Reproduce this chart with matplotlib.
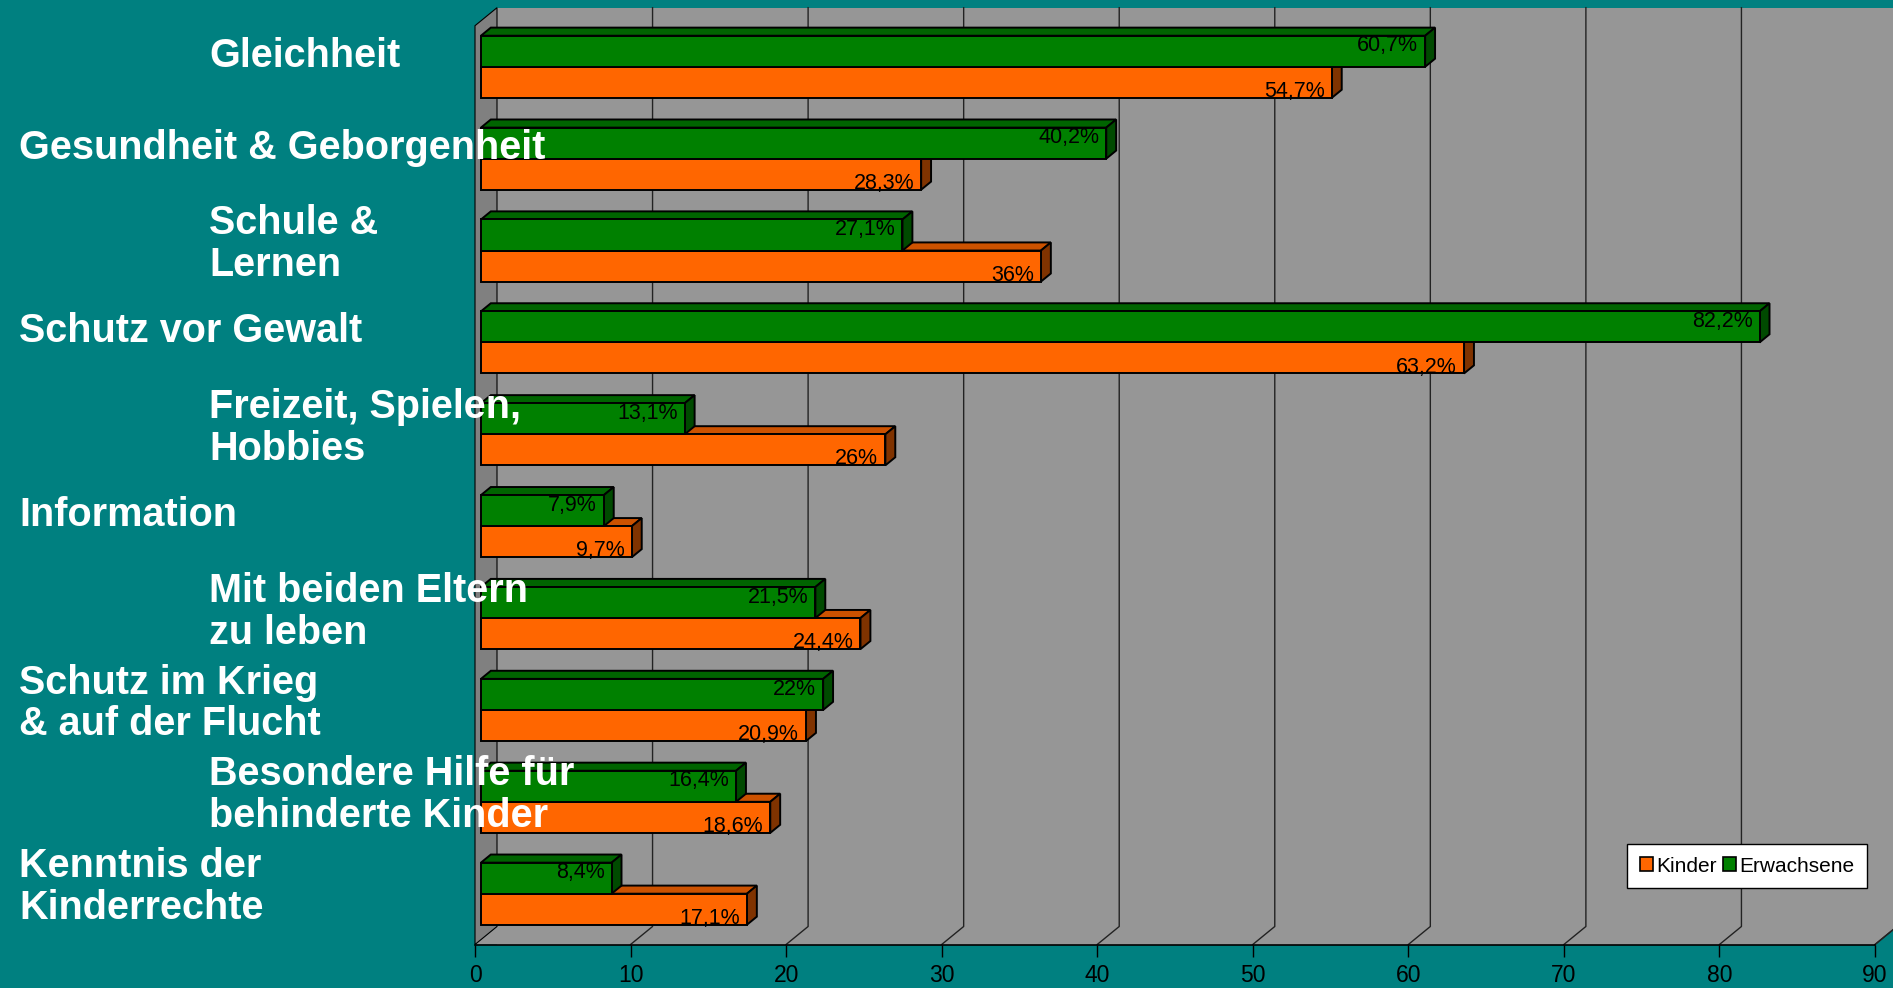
import matplotlib
matplotlib.use("Agg")
import matplotlib.pyplot as plt
from matplotlib.patches import Polygon, Patch
from matplotlib.transforms import blended_transform_factory

# ---------------- data ----------------
categories = [
    "Gleichheit",
    "Gesundheit & Geborgenheit",
    "Schule &\nLernen",
    "Schutz vor Gewalt",
    "Freizeit, Spielen,\nHobbies",
    "Information",
    "Mit beiden Eltern\nzu leben",
    "Schutz im Krieg\n& auf der Flucht",
    "Besondere Hilfe für\nbehinderte Kinder",
    "Kenntnis der\nKinderrechte",
]
erwachsene = [60.7, 40.2, 27.1, 82.2, 13.1, 7.9, 21.5, 22.0, 16.4, 8.4]
kinder = [54.7, 28.3, 36.0, 63.2, 26.0, 9.7, 24.4, 20.9, 18.6, 17.1]
erwachsene_labels = ["60,7%", "40,2%", "27,1%", "82,2%", "13,1%", "7,9%", "21,5%", "22%", "16,4%", "8,4%"]
kinder_labels = ["54,7%", "28,3%", "36%", "63,2%", "26%", "9,7%", "24,4%", "20,9%", "18,6%", "17,1%"]
xticks = [0, 10, 20, 30, 40, 50, 60, 70, 80, 90]
series_names = ["Kinder", "Erwachsene"]

# ---------------- style ----------------
TEAL = "#008080"
WALL = "#969696"
SIDEWALL = "#808080"
GREEN, GREEN_TOP, GREEN_SIDE = "#008000", "#006400", "#004a00"
ORANGE, ORANGE_TOP, ORANGE_SIDE = "#FF6600", "#CC5200", "#803300"

plt.rcParams["font.family"] = ["Liberation Sans", "DejaVu Sans"]

W, H = 1893, 988
fig = plt.figure(figsize=(W / 100, H / 100), dpi=100, facecolor=TEAL)
ax = fig.add_axes([475 / W, (H - 944.5) / H, 1400 / W, (944.5 - 25.7) / H])
ax.set_xlim(0, 90)
ax.set_ylim(len(categories) - 0.5, -0.5)
ax.patch.set_visible(False)
for s in ["left", "top", "right"]:
    ax.spines[s].set_visible(False)
ax.spines["bottom"].set_color("black")
ax.spines["bottom"].set_linewidth(1.2)
ax.spines["bottom"].set_zorder(5)
ax.set_yticks([])
ax.set_xticks(xticks)
ax.set_xticklabels([str(t) for t in xticks], fontsize=16.5)
ax.tick_params(axis="x", direction="out", length=8.6, width=1, color="black", pad=5.5)

DX, DY = 1.414, -0.196          # full depth offset (data units)
y_top, y_bot = -0.5, len(categories) - 0.5
x_max = 90

# back wall (extends down under the floor to avoid a seam)
ax.add_patch(Polygon([(DX, y_top + DY), (x_max + DX + 3, y_top + DY), (x_max + DX + 3, y_bot), (DX, y_bot)],
                     closed=True, facecolor=WALL, edgecolor="none", clip_on=False, zorder=0))
# floor
ax.add_patch(Polygon([(0, y_bot), (x_max, y_bot), (x_max + DX, y_bot + DY), (DX, y_bot + DY)],
                     closed=True, facecolor=WALL, edgecolor="none", clip_on=False, zorder=0.1))
# teal beyond the right edge of the floor
ax.add_patch(Polygon([(x_max, y_bot), (x_max + DX + 3, y_bot), (x_max + DX + 3, y_bot + DY), (x_max + DX, y_bot + DY)],
                     closed=True, facecolor=TEAL, edgecolor="none", clip_on=False, zorder=0.1))
# left side wall
ax.add_patch(Polygon([(0, y_top), (DX, y_top + DY), (DX, y_bot + DY), (0, y_bot)],
                     closed=True, facecolor=SIDEWALL, edgecolor="black", linewidth=0.8, clip_on=False, zorder=0.5))
# gridlines on wall and floor
for t in xticks[1:]:
    ax.plot([t + DX, t + DX, t], [y_top + DY, y_bot + DY, y_bot], color="#222222", lw=1.0,
            clip_on=False, zorder=1)
ax.plot([x_max, x_max + DX], [y_bot, y_bot + DY], color="#222222", lw=1.0, clip_on=False, zorder=1)

# bars
bh = 0.338
d_front, d_back = 0.27, 0.72
f_dx, f_dy = d_front * DX, d_front * DY
b_dx, b_dy = d_back * DX, d_back * DY


def bar3d(v, y0, y1, c_front, c_top, c_side, z):
    ek = dict(edgecolor="black", linewidth=1.4, joinstyle="miter", clip_on=False)
    top = [(f_dx, y0 + f_dy), (v + f_dx, y0 + f_dy), (v + b_dx, y0 + b_dy), (b_dx, y0 + b_dy)]
    side = [(v + f_dx, y0 + f_dy), (v + b_dx, y0 + b_dy), (v + b_dx, y1 + b_dy), (v + f_dx, y1 + f_dy)]
    front = [(f_dx, y0 + f_dy), (v + f_dx, y0 + f_dy), (v + f_dx, y1 + f_dy), (f_dx, y1 + f_dy)]
    ax.add_patch(Polygon(top, closed=True, facecolor=c_top, zorder=z, **ek))
    ax.add_patch(Polygon(side, closed=True, facecolor=c_side, zorder=z, **ek))
    ax.add_patch(Polygon(front, closed=True, facecolor=c_front, zorder=z + 0.1, **ek))


for i, (e, k) in enumerate(zip(erwachsene, kinder)):
    bar3d(k, i, i + bh, ORANGE, ORANGE_TOP, ORANGE_SIDE, 2)
    bar3d(e, i - bh, i, GREEN, GREEN_TOP, GREEN_SIDE, 3)
    g_base = i - bh + f_dy + 0.171
    o_base = i + bh + f_dy - 0.01
    ax.text(e - 0.07, g_base, erwachsene_labels[i], ha="right", va="baseline", fontsize=15.5,
            color="black", zorder=6)
    ax.text(k - 0.07, o_base, kinder_labels[i], ha="right", va="baseline", fontsize=15.5,
            color="black", zorder=6)

# category labels
tr = blended_transform_factory(fig.transFigure, ax.transData)
x_positions = [209, 19]
for i, lab in enumerate(categories):
    two = "\n" in lab
    yy = i + f_dy + (-0.07 if two else -0.12)
    ax.text(x_positions[i % 2] / W, yy, lab, transform=tr, ha="left", va="center", fontsize=28.5,
            fontweight="bold", color="white", linespacing=1.13, zorder=10, clip_on=False)

# legend
handles = [Patch(facecolor=ORANGE, edgecolor="black", linewidth=1.2, label=series_names[0]),
           Patch(facecolor=GREEN, edgecolor="black", linewidth=1.2, label=series_names[1])]
leg = fig.legend(handles=handles, loc="upper left", bbox_to_anchor=(1627 / W, 1 - 844 / H), ncol=2,
                 frameon=True, fancybox=False, framealpha=1, edgecolor="black", facecolor="white",
                 fontsize=15, handlelength=0.65, handleheight=0.65, handletextpad=0.15,
                 columnspacing=0.3, borderpad=0.6, borderaxespad=0)
leg.get_frame().set_linewidth(1.0)
leg.set_zorder(20)

fig.savefig("out.png", dpi=100, facecolor=TEAL)
